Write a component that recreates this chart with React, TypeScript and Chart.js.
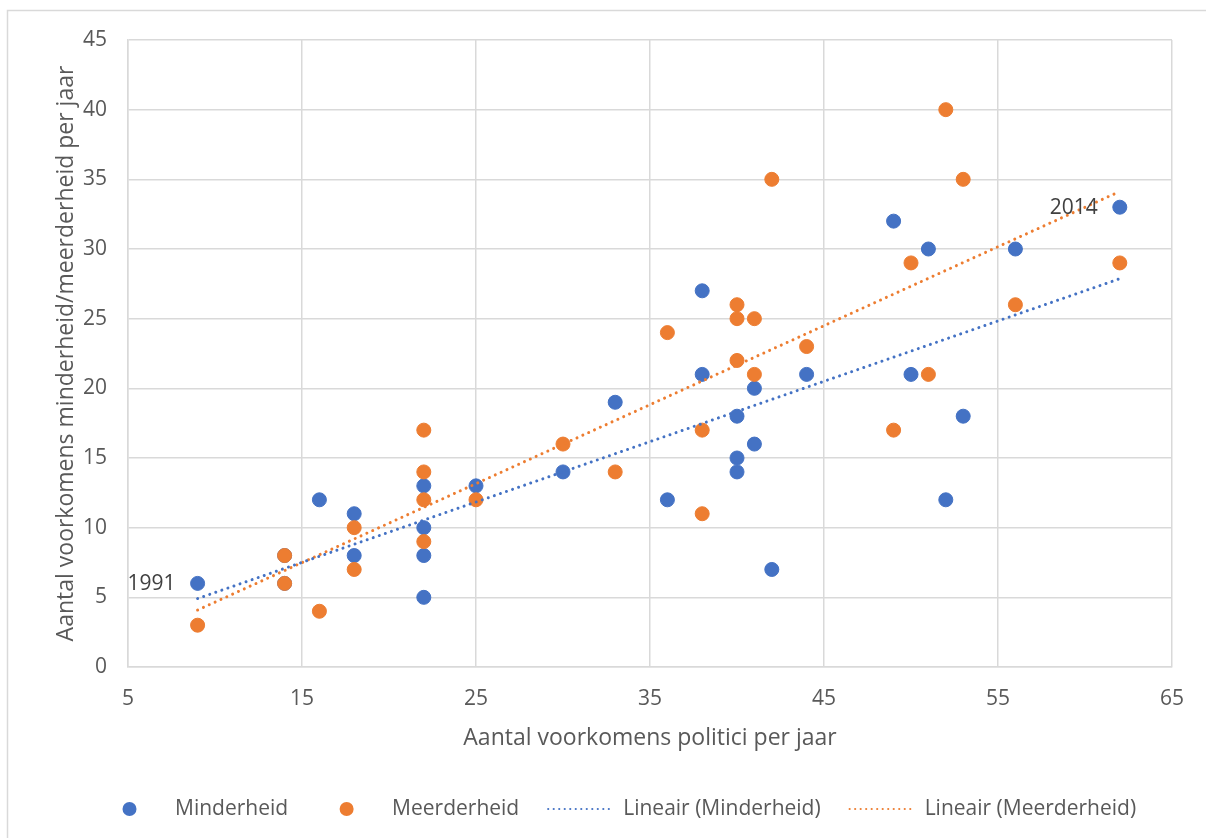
import React, { useEffect, useRef } from "react";
import { Chart, registerables } from "chart.js";

Chart.register(...registerables);

// ---- Data ----
const politiciPerJaar = [9, 14, 14, 16, 18, 18, 22, 22, 22, 22, 25, 30, 33, 36, 38, 38, 40, 40, 40, 41, 41, 42, 44, 49, 50, 51, 52, 53, 56, 62];
const minderheid = [6, 6, 8, 12, 11, 8, 13, 10, 8, 5, 13, 14, 19, 12, 27, 21, 18, 15, 14, 20, 16, 7, 21, 32, 21, 30, 12, 18, 30, 33];
const meerderheid = [3, 8, 6, 4, 10, 7, 17, 14, 12, 9, 12, 16, 14, 24, 17, 11, 26, 25, 22, 25, 21, 35, 23, 17, 29, 21, 40, 35, 26, 29];

const seriesNames = ["Minderheid", "Meerderheid"];
const trendNames = ["Lineair (Minderheid)", "Lineair (Meerderheid)"];
const seriesColors = ["#4472C4", "#ED7D31"];

const pointLabelIndices = [0, 29];
const pointLabelTexts = ["1991", "2014"];

const xMin = 5;
const xMax = 65;
const xStep = 10;
const yMin = 0;
const yMax = 45;
const yStep = 5;

const xTitle = "Aantal voorkomens politici per jaar";
const yTitle = "Aantal voorkomens minderheid/meerderheid per jaar";

// ---- Styling ----
const FONT = "'Open Sans', 'Noto Sans', sans-serif";
const TEXT = "#595959";
const GRID = "#d9d9d9";

function linearFit(xs: number[], ys: number[]) {
  const n = xs.length;
  const mx = xs.reduce((a, b) => a + b, 0) / n;
  const my = ys.reduce((a, b) => a + b, 0) / n;
  let sxy = 0;
  let sxx = 0;
  for (let i = 0; i < n; i++) {
    sxy += (xs[i] - mx) * (ys[i] - my);
    sxx += (xs[i] - mx) * (xs[i] - mx);
  }
  const b = sxy / sxx;
  const a = my - b * mx;
  const lo = Math.min(...xs);
  const hi = Math.max(...xs);
  return [
    { x: lo, y: a + b * lo },
    { x: hi, y: a + b * hi },
  ];
}

const framePlugin = {
  id: "frame",
  beforeDraw(chart: any) {
    const { ctx, width, height } = chart;
    ctx.save();
    ctx.fillStyle = "#ffffff";
    ctx.fillRect(0, 0, width, height);
    ctx.strokeStyle = GRID;
    ctx.lineWidth = 1.5;
    ctx.strokeRect(7.5, 10.5, width + 40, height + 40);
    ctx.restore();
  },
};

const pointLabelPlugin = {
  id: "pointLabels",
  afterDatasetsDraw(chart: any) {
    const { ctx } = chart;
    const meta = chart.getDatasetMeta(0);
    ctx.save();
    ctx.font = `21px ${FONT}`;
    ctx.fillStyle = "#404040";
    ctx.textAlign = "right";
    ctx.textBaseline = "middle";
    pointLabelIndices.forEach((idx, i) => {
      const el = meta.data[idx];
      if (!el) return;
      ctx.fillText(pointLabelTexts[i], el.x - 22, el.y + 1);
    });
    ctx.restore();
  },
};

const legendPlugin = {
  id: "customLegend",
  afterDraw(chart: any) {
    const { ctx } = chart;
    const ds = chart.data.datasets;
    const order = [0, 1, 2, 3];
    const y = 809;
    let x = 98;
    const symW = 63;
    ctx.save();
    ctx.font = `21px ${FONT}`;
    ctx.textBaseline = "middle";
    ctx.textAlign = "left";
    order.forEach((i) => {
      const d = ds[i];
      if (d.showLine) {
        ctx.save();
        ctx.strokeStyle = d.borderColor;
        ctx.lineWidth = 2.2;
        ctx.lineCap = "round";
        ctx.setLineDash([0.01, 5.5]);
        ctx.beginPath();
        ctx.moveTo(x + 2, y);
        ctx.lineTo(x + symW, y);
        ctx.stroke();
        ctx.restore();
      } else {
        ctx.beginPath();
        ctx.fillStyle = d.backgroundColor;
        ctx.arc(x + symW / 2, y, 7, 0, Math.PI * 2);
        ctx.fill();
      }
      x += symW + 14;
      ctx.fillStyle = TEXT;
      ctx.fillText(d.label, x, y);
      x += ctx.measureText(d.label).width + 27;
    });
    ctx.restore();
  },
};

export default function App() {
  const canvasRef = useRef<HTMLCanvasElement | null>(null);

  useEffect(() => {
    const canvas = canvasRef.current;
    if (!canvas) return;

    const seriesY = [minderheid, meerderheid];
    const pointSets = seriesY.map((ys) => politiciPerJaar.map((x, i) => ({ x, y: ys[i] })));

    const chart = new Chart(canvas, {
      type: "scatter",
      data: {
        datasets: [
          {
            label: seriesNames[0],
            data: pointSets[0],
            backgroundColor: seriesColors[0],
            borderColor: seriesColors[0],
            pointRadius: 7,
            pointHoverRadius: 7,
            borderWidth: 1,
            order: 2,
          },
          {
            label: seriesNames[1],
            data: pointSets[1],
            backgroundColor: seriesColors[1],
            borderColor: seriesColors[1],
            pointRadius: 7,
            pointHoverRadius: 7,
            borderWidth: 1,
            order: 1,
          },
          {
            label: trendNames[0],
            data: linearFit(politiciPerJaar, minderheid),
            showLine: true,
            borderColor: seriesColors[0],
            backgroundColor: seriesColors[0],
            borderWidth: 3,
            borderDash: [0.01, 6.4],
            borderCapStyle: "round",
            pointRadius: 0,
            order: 0,
          },
          {
            label: trendNames[1],
            data: linearFit(politiciPerJaar, meerderheid),
            showLine: true,
            borderColor: seriesColors[1],
            backgroundColor: seriesColors[1],
            borderWidth: 3,
            borderDash: [0.01, 6.4],
            borderCapStyle: "round",
            pointRadius: 0,
            order: 0,
          },
        ],
      },
      options: {
        animation: false,
        responsive: false,
        maintainAspectRatio: false,
        layout: { padding: { left: 0, right: 34, top: 40, bottom: 80 } },
        plugins: {
          legend: { display: false },
          tooltip: { enabled: false },
        },
        scales: {
          x: {
            type: "linear",
            min: xMin,
            max: xMax,
            afterFit: (scale: any) => {
              scale.height = 91;
            },
            ticks: {
              stepSize: xStep,
              color: TEXT,
              font: { family: FONT, size: 21 },
              padding: 19,
              maxRotation: 0,
            },
            grid: { color: GRID, lineWidth: 1.5, drawTicks: false },
            border: { display: true, color: GRID, width: 1.5 },
            title: {
              display: true,
              text: xTitle,
              color: TEXT,
              font: { family: FONT, size: 23 },
              padding: { top: 0, bottom: 6 },
            },
          },
          y: {
            type: "linear",
            min: yMin,
            max: yMax,
            afterFit: (scale: any) => {
              scale.width = 128;
            },
            ticks: {
              stepSize: yStep,
              color: TEXT,
              font: { family: FONT, size: 21 },
              padding: 21,
            },
            grid: { color: GRID, lineWidth: 1.5, drawTicks: false },
            border: { display: true, color: GRID, width: 1.5 },
            title: {
              display: true,
              text: yTitle,
              color: TEXT,
              font: { family: FONT, size: 23 },
              padding: { top: 53, bottom: 0 },
            },
          },
        },
      },
      plugins: [framePlugin, pointLabelPlugin, legendPlugin],
    } as any);

    return () => {
      chart.destroy();
    };
  }, []);

  return (
    <div style={{ position: "fixed", left: 0, top: 0, width: 1206, height: 838, background: "#fff" }}>
      <canvas ref={canvasRef} width={1206} height={838} style={{ display: "block", width: 1206, height: 838 }} />
    </div>
  );
}
